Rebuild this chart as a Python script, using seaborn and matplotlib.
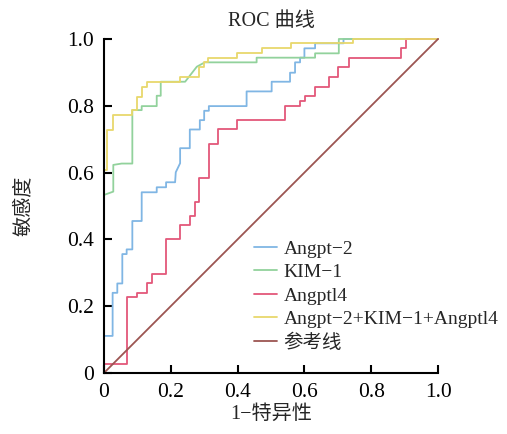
import pandas as pd
import seaborn as sns
import matplotlib.pyplot as plt

# ROC corner points
angpt2_fpr = [0, 0, 0.026, 0.026, 0.040, 0.040, 0.055, 0.055, 0.068, 0.068, 0.085, 0.085,
              0.113, 0.113, 0.158, 0.158, 0.186, 0.186, 0.213, 0.215, 0.228, 0.228, 0.257, 0.257,
              0.287, 0.287, 0.300, 0.300, 0.314, 0.314, 0.427, 0.427, 0.502, 0.502, 0.557, 0.557,
              0.572, 0.572, 0.587, 0.587, 0.600, 0.600, 0.632, 0.632, 0.717, 0.717, 1.0]
angpt2_tpr = [0, 0.111, 0.111, 0.240, 0.240, 0.268, 0.268, 0.356, 0.356, 0.370, 0.370, 0.455,
              0.455, 0.541, 0.541, 0.556, 0.556, 0.571, 0.571, 0.601, 0.628, 0.673, 0.673, 0.729,
              0.729, 0.757, 0.757, 0.785, 0.785, 0.799, 0.799, 0.843, 0.843, 0.872, 0.872, 0.899,
              0.899, 0.930, 0.930, 0.944, 0.944, 0.972, 0.972, 0.987, 0.987, 1.0, 1.0]

kim1_fpr = [0, 0, 0.028, 0.028, 0.053, 0.085, 0.085, 0.113, 0.113, 0.158, 0.158, 0.170, 0.170,
            0.243, 0.278, 0.302, 0.457, 0.457, 0.632, 0.632, 0.703, 0.703, 1.0]
kim1_tpr = [0, 0.533, 0.543, 0.623, 0.627, 0.627, 0.787, 0.787, 0.799, 0.799, 0.830, 0.830, 0.872,
            0.872, 0.917, 0.930, 0.930, 0.944, 0.944, 0.957, 0.957, 1.0, 1.0]

angptl4_fpr = [0, 0, 0.070, 0.070, 0.098, 0.098, 0.128, 0.128, 0.143, 0.143, 0.185, 0.185,
               0.229, 0.229, 0.257, 0.257, 0.272, 0.272, 0.285, 0.285, 0.315, 0.315, 0.342, 0.342,
               0.397, 0.397, 0.542, 0.542, 0.587, 0.587, 0.602, 0.602, 0.632, 0.632, 0.673, 0.673,
               0.702, 0.702, 0.732, 0.732, 0.888, 0.888, 0.904, 0.904, 1.0]
angptl4_tpr = [0, 0.026, 0.026, 0.227, 0.227, 0.240, 0.240, 0.268, 0.268, 0.296, 0.296, 0.400,
               0.400, 0.443, 0.443, 0.470, 0.470, 0.513, 0.513, 0.585, 0.585, 0.685, 0.685, 0.729,
               0.729, 0.757, 0.757, 0.799, 0.799, 0.814, 0.814, 0.829, 0.829, 0.857, 0.857, 0.887,
               0.887, 0.915, 0.915, 0.944, 0.944, 0.972, 0.972, 1.0, 1.0]

combo_fpr = [0, 0, 0.010, 0.010, 0.028, 0.028, 0.083, 0.083, 0.098, 0.098, 0.113, 0.113, 0.128,
             0.128, 0.228, 0.228, 0.285, 0.285, 0.300, 0.300, 0.312, 0.312, 0.397, 0.397, 0.474,
             0.474, 0.560, 0.560, 0.745, 0.745, 1.0]
combo_tpr = [0, 0.608, 0.608, 0.728, 0.728, 0.772, 0.772, 0.787, 0.787, 0.827, 0.827, 0.857, 0.857,
             0.872, 0.872, 0.887, 0.887, 0.915, 0.915, 0.930, 0.930, 0.942, 0.942, 0.957, 0.957,
             0.972, 0.972, 0.987, 0.987, 1.0, 1.0]

ref_fpr = [0, 1.0]
ref_tpr = [0, 1.0]

labels = ["Angpt\u22122", "KIM\u22121", "Angptl4", "Angpt\u22122+KIM\u22121+Angptl4", "参考线"]
colors = ["#80b6e4", "#92d29c", "#e3577a", "#e8d86c", "#9c5552"]
ticks = [0, 0.2, 0.4, 0.6, 0.8, 1.0]
tick_labels = ["0", "0.2", "0.4", "0.6", "0.8", "1.0"]

curves = [(angpt2_fpr, angpt2_tpr), (kim1_fpr, kim1_tpr), (angptl4_fpr, angptl4_tpr),
          (combo_fpr, combo_tpr), (ref_fpr, ref_tpr)]
frames = []
for name, (fx, ty) in zip(labels, curves):
    frames.append(pd.DataFrame({"fpr": fx, "tpr": ty, "model": name}))
df = pd.concat(frames, ignore_index=True)

sns.set_style("ticks")
plt.rcParams["font.family"] = ["Liberation Serif", "Noto Sans CJK SC", "DejaVu Sans"]
plt.rcParams["axes.unicode_minus"] = True

fig = plt.figure(figsize=(5.07, 4.34), dpi=100)
ax = fig.add_axes([0.205, 0.1406, 0.659, 0.7696])

sns.lineplot(data=df, x="fpr", y="tpr", hue="model", hue_order=labels,
             palette=dict(zip(labels, colors)), sort=False, estimator=None,
             linewidth=1.3, ax=ax)
for line in ax.lines:
    line.set_clip_on(False)

ax.set_xlim(0, 1)
ax.set_ylim(0, 1)
ax.set_xticks(ticks)
ax.set_xticklabels(tick_labels)
ax.set_yticks(ticks)
ax.set_yticklabels(tick_labels)
ax.tick_params(direction="in", length=6, width=1.5, labelsize=15.5, pad=7, colors="black")
sns.despine(ax=ax)
for side in ["left", "bottom"]:
    ax.spines[side].set_linewidth(1.5)
    ax.spines[side].set_color("black")

ax.set_title("ROC 曲线", fontsize=14.5, pad=9)
ax.set_xlabel("1\u2212特异性", fontsize=14.5)
ax.set_ylabel("敏感度", fontsize=14.5)
ax.xaxis.set_label_coords(0.5, -0.095)
ax.yaxis.set_label_coords(-0.21, 0.5)

ax.legend(title=None, frameon=False, loc="lower left", bbox_to_anchor=(0.45, 0.062),
          borderpad=0, borderaxespad=0, handlelength=1.15, handletextpad=0.35,
          labelspacing=0.3, fontsize=14)

fig.savefig("out.png", dpi=100)
